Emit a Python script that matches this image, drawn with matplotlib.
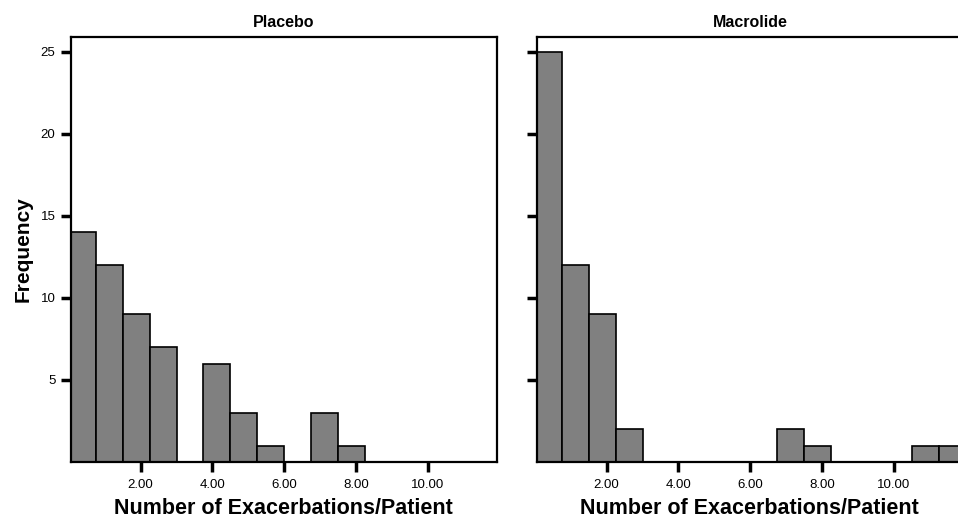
import numpy as np
import matplotlib
matplotlib.use("Agg")
import matplotlib.pyplot as plt

plt.rcParams['font.family'] = ['Liberation Sans', 'DejaVu Sans']

# histogram bins: width 0.75 from 0 to 12
bin_edges = np.arange(0, 12.01, 0.75)

placebo_counts = [14, 12, 9, 7, 0, 6, 3, 1, 0, 3, 1, 0, 0, 0, 0, 0]
macrolide_counts = [25, 12, 9, 2, 0, 0, 0, 0, 0, 2, 1, 0, 0, 0, 1, 1]

panel_titles = ["Placebo", "Macrolide"]
xtick_vals = [2, 4, 6, 8, 10]
xtick_labels = ["2.00", "4.00", "6.00", "8.00", "10.00"]
ytick_vals = [5, 10, 15, 20, 25]

fig = plt.figure(figsize=(9.58, 5.19), dpi=100)
ax1 = fig.add_axes([0.0738, 0.1098, 0.445, 0.819])
ax2 = fig.add_axes([0.5602, 0.1098, 0.445, 0.819])

for ax, counts, title in zip([ax1, ax2], [placebo_counts, macrolide_counts], panel_titles):
    lefts = bin_edges[:-1]
    ax.bar(lefts, counts, width=0.75, align='edge', color='#808080',
           edgecolor='black', linewidth=1.2)
    ax.set_xlim(0.05, 11.93)
    ax.set_ylim(0, 25.9)
    ax.set_xticks(xtick_vals)
    ax.set_xticklabels(xtick_labels)
    ax.set_yticks(ytick_vals)
    ax.tick_params(axis='both', direction='out', length=7, width=2.5,
                   labelsize=9.5)
    ax.tick_params(axis='x', pad=5)
    ax.tick_params(axis='y', pad=4)
    for s in ax.spines.values():
        s.set_linewidth(1.6)
    ax.set_title(title, fontsize=11.5, fontweight='bold', pad=7)
    ax.set_xlabel("Number of Exacerbations/Patient", fontsize=15.5,
                  fontweight='bold', labelpad=5)

ax1.set_ylabel("Frequency", fontsize=15, fontweight='bold', labelpad=6)
ax2.set_yticklabels([])

fig.savefig("out.png", dpi=100)
